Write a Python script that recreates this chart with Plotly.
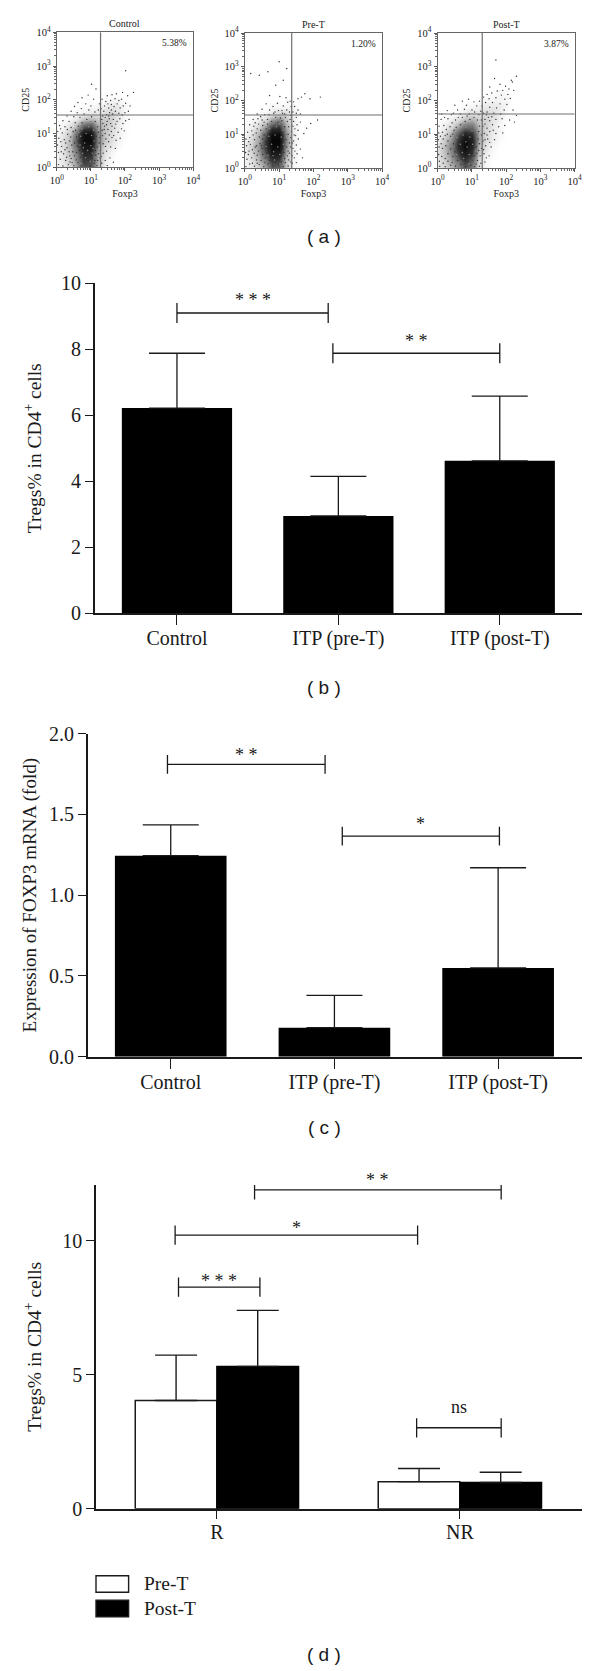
import math
import plotly.graph_objects as go

SERIF = "Liberation Serif"
SANS = "Liberation Sans"
INK = "#1a1a1a"
W, H = 600, 1671

# ---------- panel (a): flow cytometry, all values are log10 units ----------
grid_x = [0, .2, .4, .6, .8, 1.0, 1.2, 1.4, 1.6, 1.8, 2.0, 2.2, 2.4]
grid_y = [0, .2, .4, .6, .8, 1.0, 1.2, 1.4, 1.6, 1.8, 2.0, 2.2]

control_density = [
    [.03, .06, .12, .25, .50, .50, .18, .03, 0, 0, 0, 0, 0],
    [.03, .07, .14, .30, .60, .55, .20, .05, .01, 0, 0, 0, 0],
    [.03, .08, .18, .35, .72, .68, .22, .07, .02, 0, 0, 0, 0],
    [.03, .09, .20, .45, .85, .85, .28, .10, .05, .02, 0, 0, 0],
    [.02, .09, .20, .52, .95, .95, .32, .14, .08, .03, 0, 0, 0],
    [.01, .07, .16, .42, .90, .90, .32, .15, .09, .04, .01, 0, 0],
    [0, .03, .09, .20, .50, .55, .22, .15, .10, .05, .01, 0, 0],
    [0, .01, .03, .07, .16, .20, .14, .15, .11, .06, .02, 0, 0],
    [0, 0, 0, .02, .04, .06, .06, .09, .12, .07, .02, 0, 0],
    [0, 0, 0, 0, .01, .02, .03, .05, .07, .06, .02, 0, 0],
    [0, 0, 0, 0, 0, 0, 0, .01, .02, .02, .01, 0, 0],
    [0, 0, 0, 0, 0, 0, 0, 0, 0, 0, 0, 0, 0],
]
pre_density = [
    [.02, .06, .12, .24, .45, .45, .14, .02, 0, 0, 0, 0, 0],
    [.03, .08, .18, .34, .60, .58, .16, .03, 0, 0, 0, 0, 0],
    [.04, .11, .24, .50, .82, .78, .22, .04, 0, 0, 0, 0, 0],
    [.05, .13, .28, .64, .95, .95, .28, .04, 0, 0, 0, 0, 0],
    [.04, .11, .25, .64, 1.0, 1.0, .32, .05, 0, 0, 0, 0, 0],
    [.02, .08, .20, .52, .95, .95, .30, .05, 0, 0, 0, 0, 0],
    [.01, .05, .11, .28, .60, .64, .22, .05, 0, 0, 0, 0, 0],
    [0, .02, .05, .11, .26, .34, .16, .05, 0, 0, 0, 0, 0],
    [0, 0, .01, .03, .07, .11, .10, .05, 0, 0, 0, 0, 0],
    [0, 0, 0, 0, .02, .03, .03, .03, 0, 0, 0, 0, 0],
    [0, 0, 0, 0, 0, 0, 0, 0, 0, 0, 0, 0, 0],
    [0, 0, 0, 0, 0, 0, 0, 0, 0, 0, 0, 0, 0],
]
post_density = [
    [.05, .10, .18, .30, .48, .36, .08, .02, 0, 0, 0, 0, 0],
    [.06, .13, .24, .42, .62, .46, .10, .02, 0, 0, 0, 0, 0],
    [.07, .16, .30, .60, .80, .62, .14, .04, .01, 0, 0, 0, 0],
    [.07, .18, .36, .72, .95, .74, .18, .07, .02, 0, 0, 0, 0],
    [.05, .15, .30, .68, .95, .80, .22, .09, .04, .01, 0, 0, 0],
    [.03, .10, .22, .52, .76, .68, .22, .10, .05, .02, 0, 0, 0],
    [.01, .05, .11, .26, .42, .42, .18, .11, .06, .02, 0, 0, 0],
    [0, .02, .05, .10, .18, .22, .14, .11, .07, .03, 0, 0, 0],
    [0, 0, .01, .03, .06, .09, .08, .10, .09, .05, .01, 0, 0],
    [0, 0, 0, 0, .02, .03, .04, .06, .07, .05, .02, 0, 0],
    [0, 0, 0, 0, 0, 0, .01, .02, .03, .03, .02, 0, 0],
    [0, 0, 0, 0, 0, 0, 0, 0, .01, .02, .01, 0, 0],
]

control_dots = [
    (2.02, 2.86), (1.02, 2.46), (1.15, 2.32), (2.25, 2.22), (2.08, 2.12), (1.93, 2.22), (1.75, 2.18), (1.62, 2.15),
    (1.48, 2.12), (1.9, 2.02), (1.82, 1.98), (1.71, 2.03), (1.58, 1.98), (1.44, 1.95), (1.33, 2.02), (1.25, 1.88),
    (2.02, 1.9), (1.95, 1.82), (1.86, 1.76), (1.77, 1.88), (1.68, 1.8), (1.6, 1.86), (1.52, 1.76), (1.4, 1.82),
    (1.3, 1.74), (1.22, 1.7), (2.15, 1.82), (2.1, 1.66), (2.0, 1.62), (1.92, 1.55), (1.82, 1.6), (1.72, 1.66),
    (1.64, 1.58), (1.55, 1.62), (1.46, 1.56), (1.38, 1.66), (2.12, 1.42), (2.02, 1.38), (1.94, 1.3), (1.85, 1.44),
    (1.77, 1.36), (1.66, 1.42), (1.58, 1.3), (1.48, 1.36), (1.4, 1.22), (1.32, 1.42), (1.98, 1.08), (1.9, 1.14),
    (1.8, 1.04), (1.7, 1.16), (1.6, 1.06), (1.5, 1.12), (1.42, 1.0), (1.33, 1.1), (1.86, 0.86), (1.74, 0.8),
    (1.62, 0.88), (1.52, 0.76), (1.44, 0.84), (1.36, 0.7), (1.72, 0.56), (1.58, 0.6), (1.46, 0.48), (1.36, 0.42),
    (1.28, 0.5), (1.56, 0.28), (1.42, 0.2), (1.32, 0.12), (1.27, 0.28), (1.66, 0.15), (1.48, 0.05), (1.18, 0.05),
    (0.92, 2.14), (0.74, 2.06), (1.08, 2.02), (0.62, 1.92), (0.85, 1.88), (1.0, 1.82), (0.52, 1.8), (0.72, 1.74),
    (0.94, 1.7), (1.12, 1.64), (0.42, 1.66), (0.6, 1.62), (0.8, 1.58), (0.3, 1.52), (0.5, 1.5), (0.68, 1.48),
    (0.18, 1.38), (0.36, 1.36), (0.54, 1.32), (0.08, 1.24), (0.24, 1.2), (0.42, 1.18), (0.03, 1.06), (0.16, 1.02),
    (0.32, 0.98), (0.48, 1.06), (0.06, 0.86), (0.22, 0.82), (0.38, 0.78), (0.02, 0.66), (0.14, 0.62), (0.3, 0.58),
    (0.44, 0.66), (0.05, 0.44), (0.2, 0.4), (0.36, 0.46), (0.1, 0.24), (0.26, 0.2), (0.42, 0.26), (0.05, 0.08),
    (0.18, 0.04), (0.34, 0.08), (0.5, 0.05), (0.62, 0.14), (0.72, 0.04), (0.86, 0.1), (0.98, 0.03), (1.1, 0.12),
    (1.2, 0.2), (1.14, 0.36), (1.24, 0.72), (1.16, 0.92), (1.2, 1.2), (0.58, 0.9), (0.52, 0.34), (0.66, 0.5),
    (0.45, 0.14), (0.57, 0.22), (0.69, 0.3), (0.77, 0.16), (0.93, 0.2), (1.04, 0.26), (1.12, 0.2), (0.38, 0.34),
    (0.47, 0.46), (0.58, 0.44), (0.62, 0.62), (0.52, 0.72), (0.41, 0.9), (0.55, 1.1), (0.63, 1.22), (0.74, 1.32),
    (0.88, 1.42), (1.02, 1.5), (1.13, 1.36), (1.22, 1.04), (1.26, 0.88), (1.19, 0.6), (1.23, 0.4), (1.13, 0.5),
    (0.31, 1.12), (0.26, 0.72), (0.12, 0.76), (0.24, 0.52), (0.11, 1.14), (0.29, 0.3), (0.39, 0.16), (0.13, 0.46),
    (1.34, 0.94), (1.39, 1.12), (1.46, 1.26), (1.54, 1.44), (1.62, 1.22), (1.73, 1.28), (1.54, 0.96), (1.67, 0.94),
    (1.43, 0.62), (1.3, 0.32), (1.35, 1.3), (1.42, 1.48), (1.52, 1.52), (1.6, 1.7), (1.5, 1.88), (1.35, 1.52),
]
pre_dots = [
    (0.17, 2.8), (0.42, 2.75), (0.67, 2.85), (1.0, 3.15), (1.22, 2.95), (0.9, 2.45), (1.12, 2.6), (1.75, 2.2),
    (1.55, 2.05), (1.9, 2.05), (2.2, 2.1), (1.65, 2.1), (0.72, 2.15), (1.02, 2.12), (1.2, 2.08), (1.32, 1.98),
    (1.42, 1.96), (1.45, 1.82), (1.55, 1.72), (1.62, 1.6), (1.35, 1.82), (1.25, 1.95), (0.95, 1.92), (0.62, 1.9),
    (0.82, 1.82), (1.12, 1.84), (0.5, 1.74), (0.72, 1.72), (0.98, 1.7), (1.22, 1.72), (1.4, 1.66), (0.36, 1.6),
    (0.58, 1.58), (0.84, 1.62), (1.1, 1.62), (1.34, 1.56), (1.5, 1.5), (1.92, 1.32), (2.12, 1.42), (1.8, 1.18),
    (1.72, 1.02), (1.62, 1.36), (1.52, 1.28), (1.55, 1.12), (1.46, 1.16), (1.42, 1.38), (1.48, 0.96), (1.56, 0.86),
    (1.42, 0.8), (1.5, 0.68), (1.4, 0.58), (1.52, 0.42), (1.44, 0.3), (1.62, 0.56), (1.68, 0.3), (1.38, 0.14),
    (1.5, 0.16), (1.36, 1.08), (1.34, 0.9), (1.3, 0.44), (1.28, 0.24), (1.26, 0.06), (1.12, 0.04), (0.98, 0.12),
    (0.82, 0.05), (0.68, 0.12), (0.55, 0.04), (0.42, 0.1), (0.28, 0.05), (0.14, 0.12), (0.03, 0.04), (0.06, 0.26),
    (0.2, 0.3), (0.34, 0.24), (0.02, 0.46), (0.12, 0.5), (0.27, 0.44), (0.4, 0.5), (0.05, 0.66), (0.16, 0.7),
    (0.3, 0.62), (0.44, 0.72), (0.03, 0.86), (0.14, 0.9), (0.28, 0.84), (0.42, 0.92), (0.08, 1.06), (0.2, 1.1),
    (0.33, 1.04), (0.46, 1.12), (0.14, 1.28), (0.26, 1.24), (0.4, 1.3), (0.52, 1.26), (0.24, 1.44), (0.38, 1.46),
    (0.5, 1.42), (0.66, 1.44), (0.6, 0.3), (0.5, 0.58), (0.56, 0.98), (0.62, 1.16), (0.72, 0.22), (1.16, 0.28),
    (1.22, 0.62), (1.24, 1.38), (1.28, 1.22), (0.9, 1.5), (1.04, 1.48), (1.18, 1.5),
    (0.47, 0.22), (0.52, 0.4), (0.58, 0.16), (0.63, 0.46), (0.79, 0.22), (0.9, 0.16), (1.06, 0.18), (1.18, 0.16),
    (1.24, 0.36), (1.14, 0.46), (1.26, 0.5), (1.3, 0.74), (1.2, 0.84), (1.26, 1.0), (1.16, 1.22), (1.08, 1.4),
    (0.96, 1.36), (0.78, 1.38), (0.66, 1.3), (0.56, 1.36), (0.6, 0.78), (0.52, 0.86), (0.34, 0.66), (0.22, 0.54),
    (0.36, 0.38), (0.48, 0.66), (0.24, 0.98), (0.36, 1.16), (0.1, 0.4), (0.22, 0.14), (0.36, 0.14), (0.11, 0.78),
    (1.38, 0.36), (1.34, 0.62), (1.38, 0.74), (1.44, 0.98), (1.4, 1.24), (1.32, 1.44), (1.46, 0.5), (1.34, 0.18),
    (1.08, 1.7), (0.88, 1.66), (0.7, 1.58), (0.46, 1.52), (0.3, 1.34), (1.3, 1.66), (1.16, 1.6), (1.5, 1.62),
]
post_dots = [
    (1.7, 3.2), (2.3, 2.72), (2.15, 2.6), (2.18, 2.55), (1.66, 2.65), (1.82, 2.48), (1.98, 2.42), (2.08, 2.34),
    (1.52, 2.4), (1.9, 2.3), (2.22, 2.3), (1.74, 2.28), (1.58, 2.22), (1.44, 2.18), (1.86, 2.16), (2.05, 2.18),
    (1.34, 2.1), (1.5, 2.05), (1.7, 2.08), (1.96, 2.04), (2.12, 2.06), (0.9, 2.04), (0.72, 1.98), (1.06, 1.96),
    (1.22, 1.98), (1.4, 1.94), (1.6, 1.94), (1.82, 1.9), (2.02, 1.88), (0.5, 1.86), (0.84, 1.86), (1.14, 1.84),
    (1.3, 1.84), (1.52, 1.8), (1.72, 1.78), (1.94, 1.72), (2.2, 1.72), (0.28, 1.7), (0.58, 1.72), (0.78, 1.74),
    (1.0, 1.72), (1.26, 1.68), (1.44, 1.66), (1.64, 1.62), (1.84, 1.6), (2.3, 1.56), (0.12, 1.6), (0.4, 1.58),
    (0.66, 1.6), (0.92, 1.6), (1.88, 1.46), (2.1, 1.42), (1.7, 1.44), (1.52, 1.4), (1.38, 1.44), (2.24, 1.36),
    (0.1, 1.44), (0.3, 1.46), (0.52, 1.42), (1.96, 1.26), (1.78, 1.22), (1.6, 1.28), (1.44, 1.18), (1.32, 1.24),
    (0.04, 1.24), (0.18, 1.26), (0.36, 1.22), (1.9, 1.04), (1.7, 1.02), (1.52, 1.08), (1.36, 1.02), (0.03, 1.04),
    (0.14, 1.06), (0.28, 1.0), (1.66, 0.84), (1.46, 0.86), (1.32, 0.8), (0.02, 0.84), (0.16, 0.86), (0.3, 0.8),
    (1.56, 0.62), (1.4, 0.66), (1.28, 0.58), (0.04, 0.62), (0.14, 0.58), (1.5, 0.36), (1.35, 0.42), (1.24, 0.36),
    (0.03, 0.4), (0.12, 0.34), (1.38, 0.18), (1.26, 0.14), (1.16, 0.22), (0.05, 0.2), (0.16, 0.14), (0.3, 0.2),
    (0.06, 0.05), (0.22, 0.04), (0.38, 0.08), (0.52, 0.05), (0.68, 0.1), (0.82, 0.04), (0.96, 0.08), (1.08, 0.04),
    (1.22, 0.05), (0.44, 0.34), (0.3, 0.42), (0.24, 0.66), (0.48, 1.12), (1.16, 1.42), (1.2, 1.08), (1.12, 0.62),
    (0.42, 0.16), (0.58, 0.22), (0.7, 0.26), (0.88, 0.18), (1.02, 0.24), (1.12, 0.12), (0.22, 0.28), (0.5, 0.48),
    (0.38, 0.56), (0.46, 0.72), (0.22, 0.96), (0.38, 0.94), (0.44, 1.0), (0.54, 1.2), (0.66, 1.28), (0.8, 1.38),
    (0.94, 1.44), (1.06, 1.5), (1.2, 1.58), (1.28, 1.42), (1.22, 1.24), (1.28, 0.98), (1.18, 0.86), (1.22, 0.72),
    (1.14, 0.44), (1.2, 0.52), (1.08, 0.36), (0.1, 0.72), (0.08, 0.94), (0.25, 1.14), (0.42, 1.34), (0.6, 1.5),
    (1.38, 1.3), (1.48, 1.5), (1.58, 1.52), (1.42, 1.58), (1.34, 1.62), (1.62, 1.12), (1.44, 0.98), (1.38, 0.84),
    (1.52, 0.76), (1.34, 0.54), (1.42, 0.3), (1.08, 1.66), (0.86, 1.54), (0.72, 1.5), (0.2, 1.5), (0.46, 1.62),
]

# pale gaps that break up the dense core of each cloud
control_gaps = [
    (0.72, 0.12), (0.84, 0.28), (0.98, 0.18), (0.76, 0.42), (0.9, 0.5), (1.04, 0.42), (0.68, 0.66), (0.82, 0.72),
    (1.0, 0.64), (1.1, 0.78), (0.7, 0.92), (0.86, 1.0), (1.02, 0.94), (0.74, 1.14), (0.94, 1.2), (1.08, 1.1),
    (0.6, 0.34), (0.56, 0.56), (0.64, 1.04), (0.82, 1.28), (1.0, 1.34), (1.12, 0.3), (1.06, 0.56), (0.78, 0.58),
]
pre_gaps = [
    (0.7, 0.1), (0.86, 0.24), (1.02, 0.12), (0.68, 0.38), (0.84, 0.48), (1.02, 0.4), (0.62, 0.64), (0.78, 0.7),
    (0.96, 0.62), (1.12, 0.7), (0.7, 0.94), (0.88, 0.98), (1.06, 0.92), (0.72, 1.16), (0.92, 1.22), (1.1, 1.12),
    (0.54, 0.24), (0.46, 0.52), (0.58, 1.06), (0.8, 1.3), (1.0, 1.3), (1.12, 0.28), (0.5, 0.8), (0.82, 0.36),
]
post_gaps = [
    (0.6, 0.14), (0.76, 0.28), (0.92, 0.12), (0.56, 0.4), (0.72, 0.46), (0.92, 0.4), (0.48, 0.62), (0.66, 0.7),
    (0.86, 0.62), (1.02, 0.7), (0.56, 0.9), (0.74, 0.98), (0.94, 0.92), (0.6, 1.12), (0.82, 1.2), (1.0, 1.1),
    (0.42, 0.24), (0.36, 0.72), (0.46, 1.06), (0.7, 1.3), (0.9, 1.32), (1.02, 0.26), (1.1, 0.5), (0.82, 0.78),
]

flow_titles = ["Control", "Pre-T", "Post-T"]
flow_percent = ["5.38%", "1.20%", "3.87%"]
flow_gate_x = [1.284, 1.366, 1.30]
flow_gate_y = [1.55, 1.57, 1.60]
flow_density = [control_density, pre_density, post_density]
flow_dots = [control_dots, pre_dots, post_dots]
flow_gaps = [control_gaps, pre_gaps, post_gaps]
flow_ticks = [0, 1, 2, 3, 4]
flow_tick_text = ["10<sup>0</sup>", "10<sup>1</sup>", "10<sup>2</sup>", "10<sup>3</sup>", "10<sup>4</sup>"]
flow_box_x = [(56.8, 193.1), (244.9, 382.0), (437.7, 574.7)]
flow_box_y = [(32.3, 167.3), (33.0, 168.0), (33.0, 168.0)]

# ---------- panel (b) ----------
b_cats = ["Control", "ITP (pre-T)", "ITP (post-T)"]
b_vals = [6.22, 2.95, 4.62]
b_tops = [7.88, 4.15, 6.58]
b_brackets = [(0.0, 0.937, 9.1, "* * *", 1), (0.966, 2.0, 7.88, "* *", 0)]

# ---------- panel (c) ----------
c_cats = ["Control", "ITP (pre-T)", "ITP (post-T)"]
c_vals = [1.245, 0.18, 0.55]
c_tops = [1.435, 0.38, 1.17]
c_brackets = [(-0.02, 0.943, 1.81, "* *", -3), (1.048, 2.008, 1.366, "*", 0)]

# ---------- panel (d) ----------
d_cats = ["R", "NR"]
d_pre = [4.04, 1.01]
d_post = [5.31, 0.98]
d_pre_top = [5.73, 1.5]
d_post_top = [7.40, 1.36]
d_brackets = [
    (-0.158, 0.177, 8.27, "* * *", -6),
    (-0.172, 0.826, 10.21, "*", -5),
    (0.155, 1.17, 11.9, "* *", -2),
    (0.822, 1.17, 3.02, "ns", 9),
]
d_legend = ["Pre-T", "Post-T"]


def dom_x(a, b):
    return [a / W, b / W]


def dom_y(top, bottom):
    return [1 - bottom / H, 1 - top / H]


fig = go.Figure()
layout = dict(
    width=W, height=H, autosize=False, margin=dict(l=0, r=0, t=0, b=0, pad=0, autoexpand=False),
    paper_bgcolor="white", plot_bgcolor="white", showlegend=False,
    font=dict(family=SERIF, color=INK), barmode="overlay",
)
annotations, shapes = [], []
minor_vals = [d + math.log10(n) for d in range(4) for n in range(2, 10)]

# panel (a)
for i in range(3):
    ax = i + 1
    xn, yn = f"x{ax}" if ax > 1 else "x", f"y{ax}" if ax > 1 else "y"
    xk, yk = f"xaxis{ax}" if ax > 1 else "xaxis", f"yaxis{ax}" if ax > 1 else "yaxis"
    common = dict(
        range=[0, 4], tickmode="array", tickvals=flow_ticks, ticktext=flow_tick_text,
        ticks="outside", ticklen=3, tickwidth=1, tickcolor="#555", showgrid=False, zeroline=False,
        showline=True, linecolor="#666", linewidth=1.2, mirror=True,
        tickfont=dict(family=SERIF, size=10.5, color="#222"), automargin=False,
        minor=dict(tickmode="array", tickvals=minor_vals, ticks="outside", ticklen=2, tickcolor="#666", showgrid=False),
    )
    layout[xk] = dict(common, domain=dom_x(*flow_box_x[i]), anchor=yn,
                      title=dict(text="Foxp3", font=dict(family=SERIF, size=10, color="#222"), standoff=4))
    layout[yk] = dict(common, domain=dom_y(*flow_box_y[i]), anchor=xn,
                      title=dict(text="CD25", font=dict(family=SERIF, size=10, color="#222"), standoff=4))
    fig.add_trace(go.Heatmap(
        x=grid_x, y=grid_y, z=flow_density[i], xaxis=xn, yaxis=yn, zmin=0, zmax=1, zsmooth="best",
        showscale=False, hoverinfo="skip",
        colorscale=[[0, "rgba(20,20,20,0)"], [0.3, "rgba(20,20,20,0.5)"], [0.65, "rgba(10,10,10,0.85)"], [1, "rgba(5,5,5,1)"]],
    ))
    gaps = flow_gaps[i]
    fig.add_trace(go.Scatter(
        x=[p[0] for p in gaps], y=[p[1] for p in gaps], mode="markers", xaxis=xn, yaxis=yn,
        marker=dict(size=1.5, color="#8a8a8a", line=dict(width=0)), cliponaxis=True,
    ))
    dots = flow_dots[i]
    fig.add_trace(go.Scatter(
        x=[p[0] for p in dots], y=[p[1] for p in dots], mode="markers", xaxis=xn, yaxis=yn,
        marker=dict(size=1.4, color="#333", line=dict(width=0)), cliponaxis=True,
    ))
    fig.add_trace(go.Scatter(x=[flow_gate_x[i]] * 2, y=[0, 4], mode="lines", xaxis=xn, yaxis=yn,
                             line=dict(color="#6e6e6e", width=1.2)))
    fig.add_trace(go.Scatter(x=[0, 4], y=[flow_gate_y[i]] * 2, mode="lines", xaxis=xn, yaxis=yn,
                             line=dict(color="#6e6e6e", width=1.2)))
    annotations.append(dict(xref=f"{xn} domain", yref=f"{yn} domain", x=0.5, y=1.0, yanchor="bottom", yshift=1,
                            text=flow_titles[i], showarrow=False, font=dict(family=SERIF, size=10, color="#222")))
    annotations.append(dict(xref=f"{xn} domain", yref=f"{yn} domain", x=0.97, y=0.97, xanchor="right", yanchor="top",
                            text=flow_percent[i], showarrow=False, font=dict(family=SERIF, size=9.5, color="#222")))


def big_axes(idx, box_x, box_y, xr, yr, ytick, title, xvals, xtext, ticklen, standoff, title_size):
    xn, yn = f"x{idx}", f"y{idx}"
    layout[f"xaxis{idx}"] = dict(
        domain=dom_x(*box_x), anchor=yn, range=xr, tickmode="array", tickvals=xvals, ticktext=xtext,
        ticks="outside", ticklen=ticklen, tickwidth=1.4, tickcolor=INK, showline=True, linecolor=INK, linewidth=1.6,
        showgrid=False, zeroline=False, tickfont=dict(family=SERIF, size=20, color=INK), automargin=False,
        ticklabelstandoff=-4,
    )
    layout[f"yaxis{idx}"] = dict(
        domain=dom_y(*box_y), anchor=xn, range=yr, tickmode="array", tickvals=ytick[0], ticktext=ytick[1],
        ticks="outside", ticklen=8, tickwidth=1.4, tickcolor=INK, showline=True, linecolor=INK, linewidth=1.6,
        showgrid=False, zeroline=False, tickfont=dict(family=SERIF, size=20, color=INK), automargin=False,
        title=dict(text=title, font=dict(family=SERIF, size=title_size, color=INK), standoff=standoff),
    )
    return xn, yn


def brackets(rows, xn, yn, half):
    for a, b, y, label, shift in rows:
        fig.add_trace(go.Scatter(
            x=[a, a, a, b, b, b], y=[y + half, y - half, y, y, y + half, y - half], mode="lines",
            xaxis=xn, yaxis=yn, cliponaxis=False, line=dict(color=INK, width=1.3),
        ))
        annotations.append(dict(
            xref=xn, yref=yn, x=(a + b) / 2, y=y, yanchor="bottom", yshift=shift,
            text=label, showarrow=False, font=dict(family=SERIF, size=18, color=INK),
        ))


# panel (b)
xn, yn = big_axes(4, (94.8, 581.6), (283.3, 613.3), [-0.509, 2.507], [0, 10],
                  ([0, 2, 4, 6, 8, 10], ["0", "2", "4", "6", "8", "10"]),
                  "Tregs% in CD4<sup>+</sup> cells", [0, 1, 2], b_cats, 10, 14, 19.5)
fig.add_trace(go.Bar(x=[0, 1, 2], y=b_vals, width=0.683, xaxis=xn, yaxis=yn, marker=dict(color="black", line=dict(width=0)),
                     error_y=dict(type="data", symmetric=False, array=[t - v for t, v in zip(b_tops, b_vals)],
                                  arrayminus=[0, 0, 0], color=INK, thickness=1.3, width=28)))
brackets(b_brackets, xn, yn, 0.3)

# panel (c)
xn, yn = big_axes(5, (87.9, 581.6), (733.7, 1056.7), [-0.506, 2.51], [0, 2],
                  ([0, .5, 1, 1.5, 2], ["0.0", "0.5", "1.0", "1.5", "2.0"]),
                  "Expression of FOXP3 mRNA (fold)", [0, 1, 2], c_cats, 10, 7, 19)
fig.add_trace(go.Bar(x=[0, 1, 2], y=c_vals, width=0.682, xaxis=xn, yaxis=yn, marker=dict(color="black", line=dict(width=0)),
                     error_y=dict(type="data", symmetric=False, array=[t - v for t, v in zip(c_tops, c_vals)],
                                  arrayminus=[0, 0, 0], color=INK, thickness=1.3, width=28)))
brackets(c_brackets, xn, yn, 0.058)

# panel (d)
xn, yn = big_axes(6, (96, 581.6), (1185, 1508.7), [-0.4976, 1.501], [0, 12.08],
                  ([0, 5, 10], ["0", "5", "10"]),
                  "Tregs% in CD4<sup>+</sup> cells", [0, 1], d_cats, 8, 15, 19.5)
off = 0.168
fig.add_trace(go.Bar(x=[-off, 1 - off], y=d_pre, width=0.336, xaxis=xn, yaxis=yn,
                     marker=dict(color="white", line=dict(color=INK, width=1.5)),
                     error_y=dict(type="data", symmetric=False, array=[t - v for t, v in zip(d_pre_top, d_pre)],
                                  arrayminus=[0, 0], color=INK, thickness=1.4, width=21)))
fig.add_trace(go.Bar(x=[off, 1 + off], y=d_post, width=0.336, xaxis=xn, yaxis=yn,
                     marker=dict(color="black", line=dict(color="black", width=1.5)),
                     error_y=dict(type="data", symmetric=False, array=[t - v for t, v in zip(d_post_top, d_post)],
                                  arrayminus=[0, 0], color=INK, thickness=1.4, width=21)))
brackets(d_brackets, xn, yn, 0.36)

# legend of panel (d)
for name, fill, top in zip(d_legend, ["white", "black"], [1575.8, 1600.2]):
    shapes.append(dict(type="rect", xref="paper", yref="paper", x0=96 / W, x1=128.6 / W,
                       y0=1 - (top + 16.5) / H, y1=1 - top / H, fillcolor=fill, line=dict(color=INK, width=1.4)))
    annotations.append(dict(xref="paper", yref="paper", x=141.7 / W, y=1 - (top + 8) / H, xanchor="left", yanchor="middle",
                            text=name, showarrow=False, font=dict(family=SERIF, size=19.5, color=INK)))

# panel captions
for label, cy in zip(["( a )", "( b )", "( c )", "( d )"], [236, 687, 1127, 1654]):
    annotations.append(dict(xref="paper", yref="paper", x=324 / W, y=1 - cy / H, yanchor="middle",
                            text=label, showarrow=False, font=dict(family=SANS, size=19, color=INK)))

layout["annotations"] = annotations
layout["shapes"] = shapes
fig.update_layout(**layout)
fig.write_html("out.html", config={"displayModeBar": False},
               post_script="document.body.style.margin='0';")
